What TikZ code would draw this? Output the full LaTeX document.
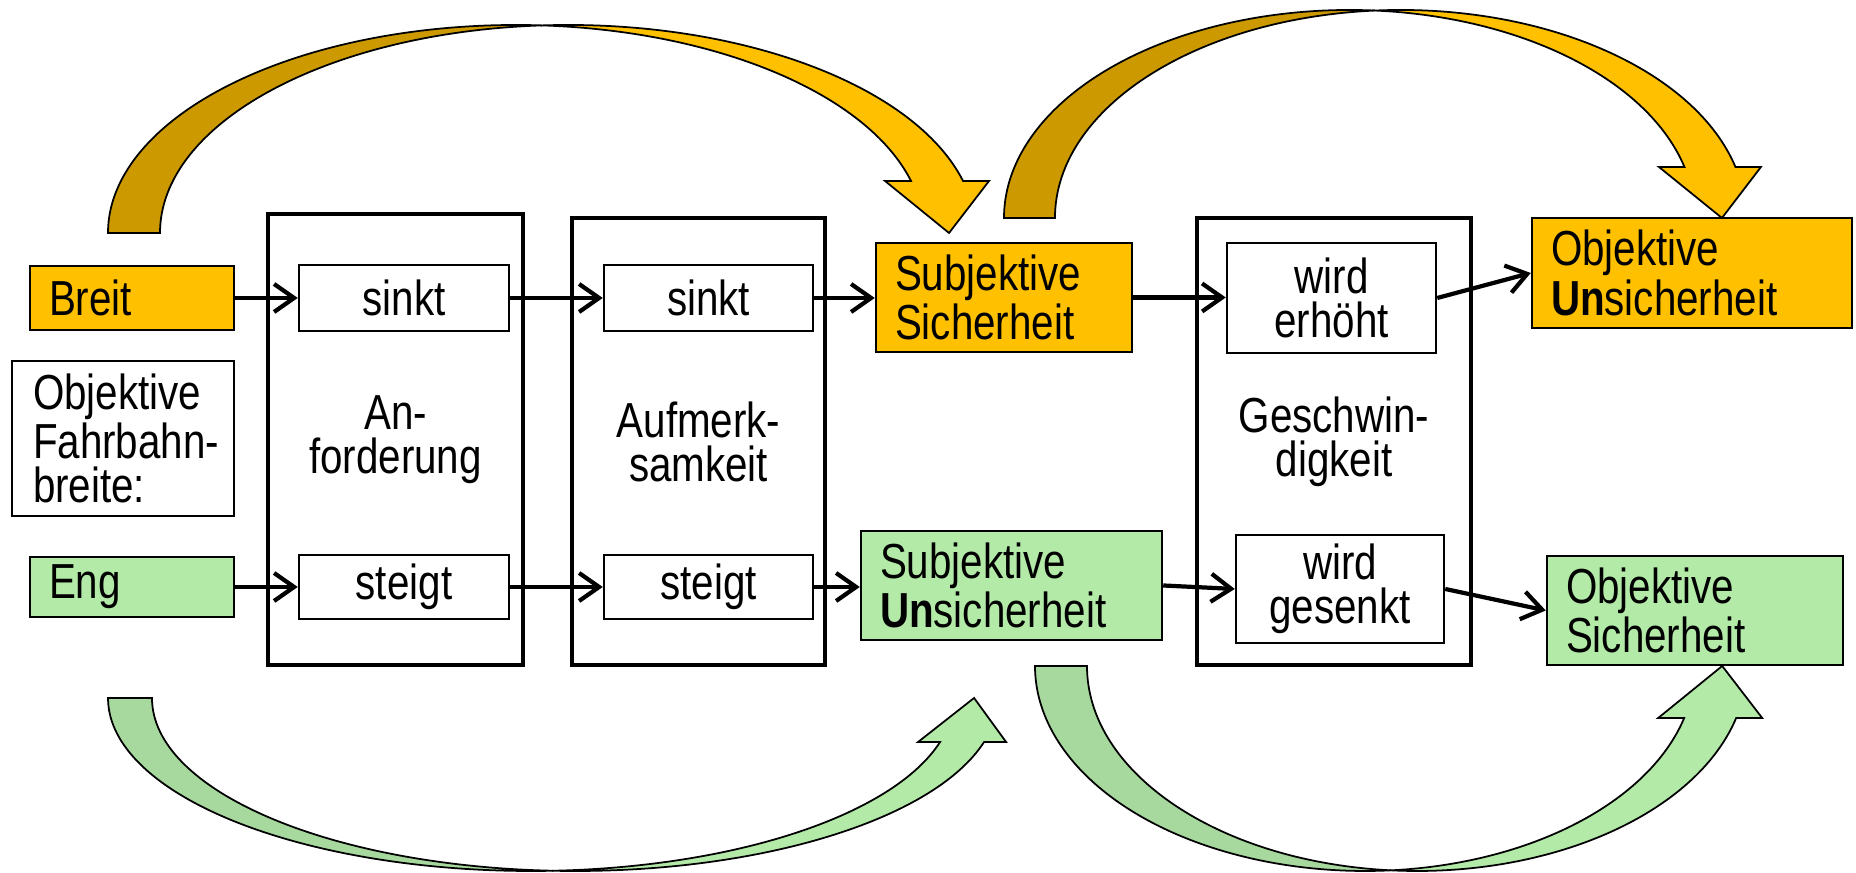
\documentclass[tikz,border=0pt]{standalone}
\usepackage{fontspec}
\setmainfont[FakeStretch=0.82]{Liberation Sans}
\usetikzlibrary{arrows.meta}
\definecolor{gelb}{HTML}{FFC000}
\definecolor{gelbdunkel}{HTML}{CC9A00}
\definecolor{gruen}{HTML}{B3EAA8}
\definecolor{gruendunkel}{HTML}{A7D99E}
\newcommand{\bogen}[8]{
  \pgfmathsetmacro{\bgwa}{acos(#5/(2*#3))}
  \pgfmathsetmacro{\bgwt}{asin(#5/#4)}
  \pgfmathsetmacro{\bgea}{180-(#6)*(180-\bgwa)}
  \pgfmathsetmacro{\bgsb}{180-(#6)*\bgwa}
  \pgfmathsetmacro{\bgnb}{180-(#6)*(180-\bgwt)}
  \pgfmathsetmacro{\bgxm}{#1+#5/2}
  \pgfmathsetmacro{\bgym}{#2+(#6)*#4*sin(\bgwa)}
  \pgfmathsetmacro{\bgxi}{#1+#3*cos(\bgwt)}
  \pgfmathsetmacro{\bgxo}{\bgxi+#5}
  \pgfmathsetmacro{\bgyn}{#2+(#6)*#5}
  \pgfmathsetmacro{\bgxt}{\bgxi+#5/2+0.12}
  \filldraw[bogenrand,fill=#7] (#1-#3,#2) arc[start angle=180,end angle=\bgea,x radius=#3,y radius=#4]
    arc[start angle=\bgsb,end angle=180,x radius=#3,y radius=#4] -- cycle;
  \filldraw[bogenrand,fill=#8] (\bgxm,\bgym) arc[start angle=\bgsb,end angle=\bgnb,x radius=#3,y radius=#4]
    -- (\bgxo+#5/2,\bgyn) -- (\bgxt,#2) -- (\bgxi-#5/2,\bgyn) -- (\bgxi,\bgyn)
    arc[start angle=\bgnb,end angle=\bgea,x radius=#3,y radius=#4] -- cycle;
}
\tikzset{
  every node/.style={font=\fontsize{14}{12.5}\selectfont},
  stufe/.style={draw,line width=1.3pt,minimum width=#1,minimum height=4.47cm,align=center,inner sep=0pt},
  wert/.style={draw,line width=0.7pt,fill=white,minimum width=2.09cm,minimum height=#1,align=center,inner sep=0pt},
  farbe/.style={draw,line width=0.7pt,fill=#1,align=left,inner xsep=0.19cm,inner ysep=0pt},
  pfeil/.style={-{Straight Barb[length=2mm,width=2.8mm]},line width=1.2pt},
  bogenrand/.style={draw=black,line width=0.5pt}
}

\begin{document}
\begin{tikzpicture}
  \useasboundingbox (0,0) rectangle (18.56,8.73);
  \node[stufe=2.55cm,minimum height=4.51cm] (anf) at (3.955,4.335) {An-\\forderung};
  \node[stufe=2.53cm] (aufm) at (6.985,4.315) {Aufmerk-\\samkeit};
  \node[stufe=2.74cm] (gesch) at (13.34,4.315) {Geschwin-\\digkeit};
  \node[wert=0.66cm,minimum width=2.10cm] (sinkta) at (4.04,5.75) {sinkt};
  \node[wert=0.64cm,minimum width=2.10cm] (steigta) at (4.04,2.86) {steigt};
  \node[wert=0.66cm] (sinktb) at (7.085,5.75) {sinkt};
  \node[wert=0.64cm] (steigtb) at (7.085,2.86) {steigt};
  \node[wert=1.10cm] (erhoeht) at (13.315,5.75) {wird\\erhöht};
  \node[wert=1.08cm,minimum width=2.08cm] (gesenkt) at (13.40,2.84) {wird\\gesenkt};
  \node[farbe=gelb,text width=1.66cm,minimum height=0.64cm] (breit) at (1.32,5.75) {Breit};
  \node[farbe=white,inner xsep=0.11cm,text width=2.0cm,minimum height=1.55cm] (fahrbahn) at (1.23,4.345) {\hspace{0.1cm}Objektive\\\hspace{0.1cm}Fahrbahn-\\\hspace{0.1cm}breite:};
  \node[farbe=gruen,text width=1.66cm,minimum height=0.60cm] (eng) at (1.32,2.86) {Eng};
  \node[farbe=gelb,text width=2.18cm,minimum height=1.09cm] (subsich) at (10.04,5.755) {Subjektive\\Sicherheit};
  \node[farbe=gruen,text width=2.63cm,minimum height=1.09cm] (subunsich) at (10.115,2.875) {Subjektive\\\textbf{Un}sicherheit};
  \node[farbe=gelb,text width=2.82cm,minimum height=1.10cm] (objunsich) at (16.92,6.0) {Objektive\\\textbf{Un}sicherheit};
  \node[farbe=gruen,text width=2.58cm,minimum height=1.09cm] (objsich) at (16.95,2.625) {Objektive\\Sicherheit};
  \draw[pfeil] (breit) -- (sinkta);
  \draw[pfeil] (eng) -- (steigta);
  \draw[pfeil] (sinkta) -- (sinktb);
  \draw[pfeil] (steigta) -- (steigtb);
  \draw[pfeil] (sinktb) -- (sinktb -| subsich.west);
  \draw[pfeil] (steigtb) -- (steigtb -| subunsich.west);
  \draw[pfeil] (subsich) -- (subsich -| erhoeht.west);
  \draw[pfeil] (subunsich.east) -- (gesenkt.west);
  \draw[pfeil] (erhoeht.east) -- (objunsich.west);
  \draw[pfeil] (gesenkt.east) -- (objsich.west);
  \bogen{5.16}{6.40}{4.08}{2.08}{0.52}{1}{gelbdunkel}{gelb}
  \bogen{13.495}{6.55}{3.455}{2.08}{0.51}{1}{gelbdunkel}{gelb}
  \bogen{5.31}{1.75}{4.23}{1.73}{0.44}{-1}{gruendunkel}{gruen}
  \bogen{13.65}{2.07}{3.30}{2.05}{0.52}{-1}{gruendunkel}{gruen}
\end{tikzpicture}
\end{document}
